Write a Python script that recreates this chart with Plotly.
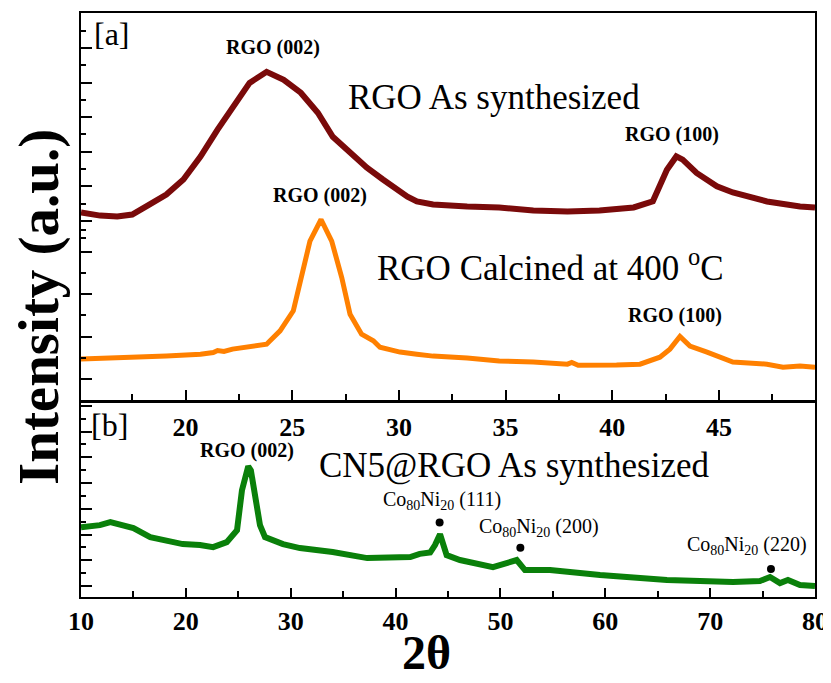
import plotly.graph_objects as go
import numpy as np

# ---------------- data ----------------
# [a] RGO as synthesized (maroon)
rgo_as_2theta = [15.1, 16.0, 16.8, 17.5, 18.3, 19.1, 19.9, 20.7, 21.5, 22.2, 23.0, 23.8, 24.6,
                 25.4, 26.2, 26.9, 27.7, 28.5, 29.25, 30.05, 30.4, 30.84, 31.6, 33.2, 34.7,
                 36.3, 37.9, 39.4, 40.4, 41.0, 41.9, 42.2, 42.56, 43.0, 43.3, 43.95, 44.9,
                 45.65, 47.25, 48.8, 49.5]
rgo_as_int = [1248, 1230, 1225, 1236, 1294, 1352, 1439, 1572, 1728, 1861, 1999, 2063, 2017,
              1942, 1826, 1687, 1595, 1508, 1439, 1369, 1340, 1312, 1294, 1283, 1277,
              1260, 1254, 1260, 1268, 1277, 1313, 1398, 1496, 1573, 1554, 1477, 1400,
              1364, 1312, 1283, 1277]

# [a] RGO calcined at 400 C (orange)
rgo_calc_2theta = [15.1, 17.5, 19.1, 20.7, 21.3, 21.5, 21.8, 22.2, 23.0, 23.8, 23.96, 24.43,
                   25.05, 25.52, 25.83, 26.35, 26.85, 27.32, 27.71, 28.25, 28.8, 29.11, 30.05,
                   30.84, 31.6, 33.2, 34.7, 36.3, 37.9, 38.1, 38.4, 40.2, 41.3, 42.23, 42.7,
                   43.17, 43.64, 44.44, 45.65, 47.25, 48.0, 48.8, 49.5]
rgo_calc_int = [294, 299, 308, 317, 325, 334, 330, 341, 350, 364, 380, 427,
                521, 709, 849, 951, 849, 678, 505, 411, 380, 350, 327,
                317, 308, 299, 285, 280, 270, 278, 265, 266, 270, 303, 341,
                400, 355, 327, 280, 270, 256, 261, 256]

# [b] CN5@RGO as synthesized (green)
cn5_2theta = [10.0, 11.8, 12.8, 15.0, 16.6, 18.2, 19.7, 21.35, 22.6, 23.9, 24.88, 25.35,
              25.69, 25.95, 26.2, 26.5, 26.78, 27.07, 27.55, 29.26, 30.88, 34.0, 37.3, 40.4,
              41.4, 42.3, 43.3, 43.76, 44.24, 44.87, 46.14, 49.29, 50.9, 51.55, 52.34, 54.73,
              59.5, 62.64, 65.88, 72.18, 74.75, 75.71, 76.66, 77.42, 78.57, 80.0]
cn5_int = [657, 673, 696, 650, 580, 557, 526, 518, 502, 541, 634, 944,
           1060, 1130, 1099, 944, 789, 673, 580, 526, 495, 464, 417, 417,
           425, 450, 460, 518, 603, 440, 402, 347, 378, 402, 324, 324,
           285, 262, 247, 231, 239, 270, 223, 247, 208, 200]

# Co80Ni20 reflection markers
coni_2theta = [44.2, 51.9, 75.8]
coni_int = [694, 497, 332]

top_ticks = [20, 25, 30, 35, 40, 45]
top_minor = [17.5, 22.5, 27.5, 32.5, 37.5, 42.5, 47.5]
bot_ticks = [10, 20, 30, 40, 50, 60, 70, 80]
bot_minor = [15, 25, 35, 45, 55, 65, 75]

# ---------------- layout helpers ----------------
OFF = 8                      # page body margin of the html output
W, H = 831 - OFF, 683 - OFF
L, R, T, B = 81 - OFF, 16, 13 - OFF, 86
PW, PH = W - L - R, H - T - B
def P(px, py):               # screenshot pixel -> paper coords
    return (px - OFF - L) / PW, (H - B - (py - OFF)) / PH

SERIF = "Liberation Serif, Times New Roman, serif"
top_dom = [P(0, 400)[1], 1.0]
bot_dom = [0.0, P(0, 402.5)[1]]

fig = go.Figure()
fig.add_trace(go.Scatter(x=rgo_as_2theta, y=rgo_as_int, mode="lines", xaxis="x", yaxis="y",
                         line=dict(color="#7a0a0a", width=6), showlegend=False))
fig.add_trace(go.Scatter(x=rgo_calc_2theta, y=rgo_calc_int, mode="lines", xaxis="x", yaxis="y2",
                         line=dict(color="#ff8000", width=5), showlegend=False))
fig.add_trace(go.Scatter(x=cn5_2theta, y=cn5_int, mode="lines", xaxis="x2", yaxis="y3",
                         line=dict(color="#0a800a", width=6), showlegend=False))
fig.add_trace(go.Scatter(x=coni_2theta, y=coni_int, mode="markers", xaxis="x2", yaxis="y3",
                         marker=dict(color="black", size=8), showlegend=False))

tickfont = dict(family=SERIF, size=26, color="black", weight="bold")
ax_common = dict(showline=True, linecolor="black", linewidth=2, mirror=True, showgrid=False,
                 zeroline=False, ticks="inside", tickcolor="black", tickwidth=2, automargin=False)

maj_m = list(range(1200, 2201, 200)); min_m = list(range(1100, 2301, 200))
maj_o = [200, 400, 600, 800]; min_o = [300, 500, 700, 900]
maj_g = list(range(200, 1601, 200)); min_g = list(range(300, 1501, 200))

fig.update_layout(
    width=W, height=H, margin=dict(l=L, r=R, t=T, b=B, autoexpand=False),
    paper_bgcolor="white", plot_bgcolor="white",
    xaxis=dict(domain=[0, 1], anchor="y", range=[15.1, 49.5], tickvals=top_ticks, ticklen=10,
               tickfont=tickfont, ticklabelstandoff=3,
               minor=dict(tickvals=top_minor, ticklen=6, ticks="inside", tickcolor="black", tickwidth=2),
               **ax_common),
    yaxis=dict(domain=top_dom, anchor="x", range=[161.3, 2404], tickvals=maj_m, ticklen=11,
               showticklabels=False,
               minor=dict(tickvals=min_m, ticklen=5, ticks="inside", tickcolor="black", tickwidth=2),
               **ax_common),
    yaxis2=dict(overlaying="y", anchor="x", range=[101.4, 1923], tickvals=maj_o, ticklen=11,
                showticklabels=False, showline=False, showgrid=False, zeroline=False,
                ticks="inside", tickcolor="black", tickwidth=2, side="left", automargin=False,
                minor=dict(tickvals=min_o, ticklen=5, ticks="inside", tickcolor="black", tickwidth=2)),
    xaxis2=dict(domain=[0, 1], anchor="y3", range=[10, 80], tickvals=bot_ticks, ticklen=9,
                tickfont=tickfont, ticklabelstandoff=0,
                minor=dict(tickvals=bot_minor, ticklen=6, ticks="inside", tickcolor="black", tickwidth=2),
                **ax_common),
    yaxis3=dict(domain=bot_dom, anchor="x2", range=[114.7, 1626], tickvals=maj_g, ticklen=11,
                showticklabels=False,
                minor=dict(tickvals=min_g, ticklen=5, ticks="inside", tickcolor="black", tickwidth=2),
                **ax_common),
)

def ann(text, px, py, size, bold=False, angle=0):
    x, y = P(px, py)
    fig.add_annotation(x=x, y=y, xref="paper", yref="paper", text=text, showarrow=False,
                       xanchor="center", yanchor="middle", textangle=angle,
                       font=dict(family=SERIF, size=size, color="black",
                                 weight="bold" if bold else "normal"))

ann("[a]", 112, 34, 32)
ann("RGO (002)", 273, 48, 20, bold=True)
ann("RGO As synthesized", 494, 98, 35)
ann("RGO (100)", 672, 134, 20, bold=True)
ann("RGO (002)", 320, 195, 20, bold=True)
ann("RGO Calcined at 400 <sup>o</sup>C", 550, 265, 35)
ann("RGO (100)", 675, 315, 20, bold=True)
ann("[b]", 109, 425, 32)
ann("RGO (002)", 247, 450, 20, bold=True)
ann("CN5@RGO As synthesized", 515, 466, 35)
ann("Co<sub>80</sub>Ni<sub>20</sub> (111)", 442, 500, 20)
ann("Co<sub>80</sub>Ni<sub>20</sub> (200)", 539, 527, 20)
ann("Co<sub>80</sub>Ni<sub>20</sub> (220)", 747, 545, 20)
ann("2θ", 426, 652, 48, bold=True)
ann("Intensity (a.u.)", 39, 307, 57, bold=True, angle=-90)

fig.write_html("out.html")
